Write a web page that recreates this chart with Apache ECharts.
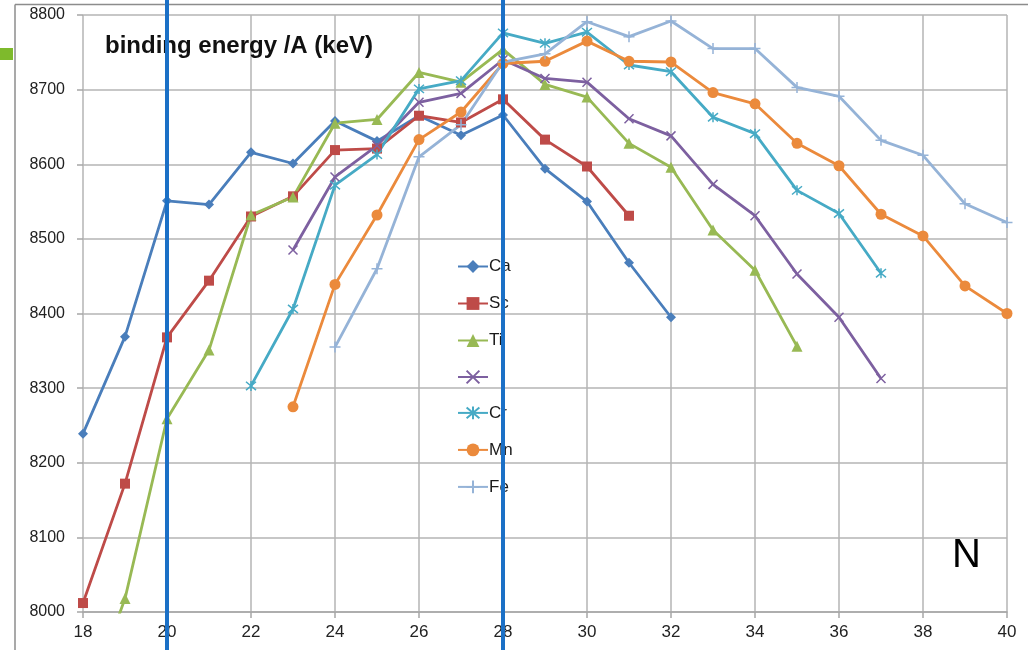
<!DOCTYPE html>
<html>
<head>
<meta charset="utf-8">
<title>binding energy per nucleon</title>
<script src="https://cdn.jsdelivr.net/npm/echarts@6/dist/echarts.min.js"></script>
<style>
  html, body { margin: 0; padding: 0; background: #fff; }
  #chart { width: 1028px; height: 650px; }
</style>
</head>
<body>
<div id="chart"></div>
<script>
// Binding energy per nucleon (keV) versus neutron number N, Ca to Fe isotopes.
// Each element: first neutron number, then consecutive B/A values.
const elementNames = ['Ca', 'Sc', 'Ti', 'V', 'Cr', 'Mn', 'Fe'];

const caStartN = 18;
const caValues = [8239, 8369, 8551, 8546, 8616, 8601, 8658, 8631, 8665, 8639, 8666, 8594, 8550, 8468, 8395];

const scStartN = 18;
const scValues = [8012, 8172, 8368, 8444, 8530, 8557, 8619, 8621, 8665, 8656, 8687, 8633, 8597, 8531];

const tiStartN = 18;
const tiValues = [7862, 8018, 8259, 8351, 8532, 8556, 8655, 8660, 8723, 8710, 8754, 8707, 8690, 8628, 8596, 8512, 8458, 8356];

const vStartN = 23;
const vValues = [8485, 8583, 8625, 8683, 8695, 8740, 8715, 8710, 8661, 8638, 8573, 8531, 8453, 8395, 8313];

const crStartN = 22;
const crValues = [8303, 8406, 8572, 8613, 8701, 8712, 8776, 8762, 8777, 8733, 8724, 8663, 8641, 8565, 8534, 8454];

const mnStartN = 23;
const mnValues = [8275, 8439, 8532, 8633, 8670, 8735, 8738, 8765, 8738, 8737, 8696, 8681, 8628, 8598, 8533, 8504, 8437, 8400];

const feStartN = 24;
const feValues = [8355, 8460, 8610, 8653, 8737, 8748, 8791, 8771, 8792, 8755, 8755, 8703, 8691, 8632, 8612, 8547, 8522];

// Shell closures marked by vertical lines
const magicN = [20, 28];

const xTicks = { min: 18, max: 40, interval: 2 };
const yTicks = { min: 8000, max: 8800, interval: 100 };

const colors = ['#4A7EBB', '#BE4B48', '#98B954', '#7D60A0', '#46AAC5', '#EB8A3C', '#95B3D7'];
const symbols = [
  'diamond',
  'rect',
  'triangle',
  'path://M0,0L10,10M10,0L0,10',
  'path://M0,0L10,10M10,0L0,10M5,-1L5,11',
  'circle',
  'path://M5,0L5,10M0,5L10,5'
];
const symbolSizes = [10, 10, 11, 9, 10, 11, 11];
const strokedSymbol = [false, false, false, true, true, false, true];

const starts = [caStartN, scStartN, tiStartN, vStartN, crStartN, mnStartN, feStartN];
const valueSets = [caValues, scValues, tiValues, vValues, crValues, mnValues, feValues];

const fontFamily = '"Liberation Sans", Arial, sans-serif';

const series = elementNames.map((name, k) => ({
  name: name,
  type: 'line',
  data: valueSets[k].map((v, i) => [starts[k] + i, v]),
  symbol: symbols[k],
  symbolSize: symbolSizes[k],
  showAllSymbol: true,
  clip: true,
  lineStyle: { color: colors[k], width: 2.8 },
  itemStyle: strokedSymbol[k]
    ? { color: colors[k], borderColor: colors[k], borderWidth: 1.5 }
    : { color: colors[k], borderWidth: 0 },
  emphasis: { disabled: true },
  animation: false
}));

const chart = echarts.init(document.getElementById('chart'), null, { renderer: 'canvas' });

chart.setOption({
  backgroundColor: '#ffffff',
  animation: false,
  grid: { left: 83, right: 21, top: 15, bottom: 38, containLabel: false },
  title: {
    text: 'binding energy /A (keV)',
    left: 100,
    top: 29,
    textStyle: { fontFamily: fontFamily, fontSize: 24, fontWeight: 'bold', color: '#111' }
  },
  legend: {
    orient: 'vertical',
    left: 452,
    top: 253,
    itemWidth: 30,
    itemHeight: 16,
    itemGap: 20,
    data: elementNames,
    formatter: name => (name === 'V' ? '' : name),
    textStyle: { fontFamily: fontFamily, fontSize: 17, color: '#1a1a1a', padding: [0, 0, 0, -4] },
    selectedMode: false
  },
  xAxis: {
    type: 'value',
    min: xTicks.min,
    max: xTicks.max,
    interval: xTicks.interval,
    axisLine: { show: true, lineStyle: { color: '#a6a6a6', width: 1.5 } },
    axisTick: { show: true, length: 6, lineStyle: { color: '#a6a6a6', width: 1.5 } },
    axisLabel: { fontFamily: fontFamily, fontSize: 17, color: '#222', margin: 12 },
    splitLine: { show: true, lineStyle: { color: '#b4b4b4', width: 1.5 } }
  },
  yAxis: {
    type: 'value',
    min: yTicks.min,
    max: yTicks.max,
    interval: yTicks.interval,
    axisLine: { show: false },
    axisTick: { show: true, length: 6, lineStyle: { color: '#a6a6a6', width: 1.5 } },
    axisLabel: { fontFamily: fontFamily, fontSize: 16, color: '#222', margin: 18, formatter: v => String(v) },
    splitLine: { show: true, lineStyle: { color: '#b4b4b4', width: 1.5 } }
  },
  series: series
});

// Frame, side marker, axis title and the shell-closure lines drawn over everything
function drawOverlay() {
  const h = chart.getHeight();
  const w = chart.getWidth();
  const elements = [
    { type: 'line', shape: { x1: 15, y1: 4.5, x2: w, y2: 4.5 }, style: { stroke: '#8c8c8c', lineWidth: 1.5 }, z: 50, silent: true },
    { type: 'line', shape: { x1: 15, y1: 4.5, x2: 15, y2: h }, style: { stroke: '#8c8c8c', lineWidth: 1.5 }, z: 50, silent: true },
    { type: 'rect', shape: { x: 0, y: 48, width: 13, height: 12 }, style: { fill: '#7EBA2C' }, z: 50, silent: true },
    { type: 'text', left: 952, top: 536, style: { text: 'N', font: '40px ' + fontFamily, fill: '#000' }, z: 50, silent: true }
  ];
  magicN.forEach(n => {
    const x = chart.convertToPixel({ xAxisIndex: 0 }, n);
    elements.push({
      type: 'line',
      shape: { x1: x, y1: 0, x2: x, y2: h },
      style: { stroke: '#1B70C6', lineWidth: 4 },
      z: 100,
      silent: true
    });
  });
  chart.setOption({ graphic: elements });
}
drawOverlay();
</script>
</body>
</html>
